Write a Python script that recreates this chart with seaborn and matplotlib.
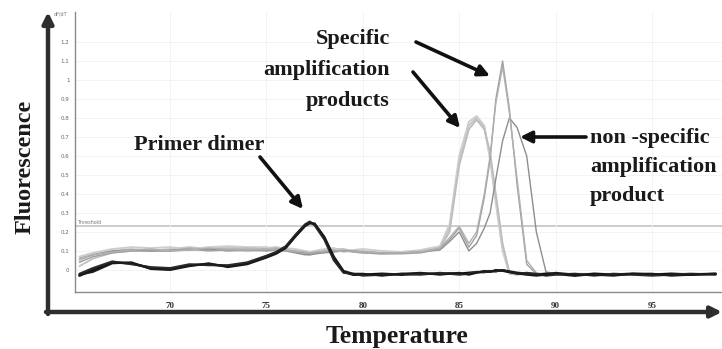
import matplotlib
matplotlib.use("Agg")
import matplotlib.pyplot as plt
import seaborn as sns
import pandas as pd

# ---------------- data ----------------
temperature = [65.3, 66, 67, 68, 69, 70, 71, 72, 73, 74,
               75, 75.5, 76, 76.5, 77, 77.25, 77.5, 78, 78.5, 79,
               79.5, 80, 81, 82, 83, 84, 84.5, 85, 85.5, 85.9,
               86.3, 86.6, 86.9, 87.25, 87.6, 88, 88.5, 89, 89.5, 90,
               91, 92, 93, 94, 95, 96, 97, 98.3]

# primer-dimer (black) curves
black_1 = [-0.03, 0.00, 0.04, 0.035, 0.01, 0.005, 0.025, 0.03, 0.02, 0.035,
           0.07, 0.09, 0.12, 0.18, 0.235, 0.25, 0.24, 0.17, 0.06, -0.01,
           -0.025, -0.025, -0.02, -0.025, -0.02, -0.02, -0.018, -0.02, -0.015, -0.012,
           -0.01, -0.008, -0.005, -0.002, -0.008, -0.015, -0.02, -0.025, -0.02, -0.02,
           -0.03, -0.02, -0.025, -0.02, -0.025, -0.02, -0.025, -0.02]
black_2 = [-0.02, 0.01, 0.045, 0.03, 0.015, 0.01, 0.03, 0.025, 0.025, 0.04,
           0.075, 0.095, 0.125, 0.185, 0.24, 0.255, 0.235, 0.16, 0.05, -0.015,
           -0.02, -0.03, -0.025, -0.02, -0.025, -0.015, -0.02, -0.025, -0.02, -0.01,
           -0.012, -0.005, -0.008, 0.0, -0.01, -0.02, -0.015, -0.02, -0.03, -0.025,
           -0.02, -0.03, -0.02, -0.025, -0.03, -0.025, -0.02, -0.025]
black_3 = [-0.025, -0.01, 0.035, 0.04, 0.005, 0.0, 0.02, 0.035, 0.015, 0.03,
           0.065, 0.085, 0.115, 0.175, 0.23, 0.245, 0.245, 0.175, 0.07, -0.005,
           -0.02, -0.02, -0.03, -0.02, -0.015, -0.025, -0.02, -0.015, -0.025, -0.015,
           -0.005, -0.01, 0.0, -0.005, -0.012, -0.018, -0.025, -0.03, -0.025, -0.015,
           -0.025, -0.025, -0.03, -0.02, -0.02, -0.03, -0.025, -0.02]

# specific product peaking near 86 C (light grey)
spec86_1 = [0.05, 0.08, 0.10, 0.11, 0.10, 0.11, 0.12, 0.11, 0.12, 0.11,
            0.115, 0.12, 0.11, 0.10, 0.09, 0.085, 0.09, 0.10, 0.11, 0.11,
            0.10, 0.10, 0.09, 0.09, 0.10, 0.12, 0.22, 0.58, 0.76, 0.80,
            0.75, 0.60, 0.38, 0.12, -0.02, -0.025, -0.02, -0.02, -0.025, -0.02,
            -0.02, -0.025, -0.02, -0.02, -0.025, -0.02, -0.02, -0.02]
spec86_2 = [0.07, 0.09, 0.11, 0.12, 0.115, 0.12, 0.11, 0.12, 0.125, 0.12,
            0.12, 0.11, 0.115, 0.11, 0.10, 0.095, 0.10, 0.11, 0.115, 0.10,
            0.105, 0.11, 0.10, 0.095, 0.105, 0.125, 0.24, 0.60, 0.78, 0.81,
            0.76, 0.58, 0.35, 0.10, -0.015, -0.02, -0.025, -0.02, -0.02, -0.025,
            -0.02, -0.02, -0.025, -0.02, -0.02, -0.025, -0.02, -0.02]
spec86_3 = [0.02, 0.06, 0.09, 0.10, 0.105, 0.10, 0.115, 0.105, 0.11, 0.115,
            0.11, 0.115, 0.105, 0.095, 0.085, 0.08, 0.085, 0.095, 0.10, 0.105,
            0.095, 0.09, 0.085, 0.09, 0.095, 0.115, 0.20, 0.55, 0.74, 0.79,
            0.74, 0.62, 0.40, 0.14, -0.01, -0.02, -0.02, -0.025, -0.02, -0.02,
            -0.025, -0.02, -0.02, -0.025, -0.02, -0.02, -0.025, -0.02]

# specific product peaking near 87.3 C (mid grey, tallest)
spec87_1 = [0.04, 0.07, 0.09, 0.10, 0.10, 0.105, 0.11, 0.10, 0.105, 0.10,
            0.105, 0.11, 0.10, 0.095, 0.09, 0.085, 0.09, 0.095, 0.10, 0.10,
            0.095, 0.09, 0.085, 0.085, 0.09, 0.11, 0.16, 0.22, 0.12, 0.18,
            0.38, 0.58, 0.90, 1.10, 0.85, 0.45, 0.03, -0.02, -0.02, -0.025,
            -0.02, -0.02, -0.025, -0.02, -0.02, -0.02, -0.025, -0.02]
spec87_2 = [0.06, 0.08, 0.095, 0.105, 0.11, 0.10, 0.105, 0.115, 0.11, 0.105,
            0.11, 0.105, 0.105, 0.10, 0.095, 0.09, 0.095, 0.10, 0.105, 0.095,
            0.10, 0.095, 0.09, 0.09, 0.095, 0.115, 0.17, 0.23, 0.14, 0.20,
            0.40, 0.60, 0.88, 1.07, 0.83, 0.48, 0.05, -0.015, -0.025, -0.02,
            -0.025, -0.02, -0.02, -0.02, -0.025, -0.02, -0.02, -0.025]

# non-specific product peaking near 87.7 C (grey)
nonspec = [0.06, 0.08, 0.10, 0.105, 0.10, 0.10, 0.105, 0.11, 0.10, 0.105,
           0.10, 0.105, 0.10, 0.09, 0.08, 0.08, 0.085, 0.09, 0.095, 0.10,
           0.10, 0.095, 0.09, 0.09, 0.095, 0.105, 0.15, 0.20, 0.10, 0.14,
           0.22, 0.30, 0.48, 0.68, 0.80, 0.75, 0.60, 0.20, -0.01, -0.02,
           -0.02, -0.025, -0.02, -0.02, -0.02, -0.025, -0.02, -0.02]

threshold = 0.23
x_ticks = [70, 75, 80, 85, 90, 95]
y_ticks = [0, 0.1, 0.2, 0.3, 0.4, 0.5, 0.6, 0.7, 0.8, 0.9, 1.0, 1.1, 1.2]
y_tick_labels = ["0", "0.1", "0.2", "0.3", "0.4", "0.5", "0.6", "0.7", "0.8",
                 "0.9", "1", "1.1", "1.2"]

curves = {
    "spec86_1": (spec86_1, "#c4c4c4", 1.4),
    "spec86_2": (spec86_2, "#cdcdcd", 1.4),
    "spec86_3": (spec86_3, "#bcbcbc", 1.2),
    "nonspec": (nonspec, "#8e8e8e", 1.0),
    "spec87_1": (spec87_1, "#a0a0a0", 1.0),
    "spec87_2": (spec87_2, "#b0b0b0", 1.0),
    "black_1": (black_1, "#111111", 1.8),
    "black_2": (black_2, "#2a2a2a", 1.5),
    "black_3": (black_3, "#1b1b1b", 1.5),
}

rows = []
for name, (vals, _, _) in curves.items():
    for t, v in zip(temperature, vals):
        rows.append({"curve": name, "Temperature": t, "dF": v})
df = pd.DataFrame(rows)

# ---------------- figure ----------------
sns.set_style("white")
plt.rcParams["font.family"] = ["Liberation Serif", "DejaVu Serif"]

W, H = 722, 349
fig = plt.figure(figsize=(W / 100, H / 100), dpi=100)

ax = fig.add_axes([75 / W, 57 / H, (W - 75) / W, (292 - 12) / H])
ax.set_xlim(65.07, 98.63)
ax.set_ylim(-0.116, 1.358)

for name, (vals, col, lw) in curves.items():
    sns.lineplot(data=df[df["curve"] == name], x="Temperature", y="dF",
                 color=col, lw=lw, ax=ax, legend=False, estimator=None)

ax.axhline(threshold, color="#c8c8c8", lw=1.3, zorder=0)
ax.text(65.2, threshold + 0.008, "Threshold", fontsize=3.5, color="#777777",
        va="bottom", ha="left", family="DejaVu Sans")

ax.set_xticks(x_ticks)
ax.set_xticklabels([str(v) for v in x_ticks], fontsize=6.5, color="#333333",
                   fontweight="bold")
ax.set_yticks(y_ticks)
ax.set_yticklabels(y_tick_labels, fontsize=4, color="#666666",
                   family="DejaVu Sans")
ax.tick_params(axis="x", length=2, width=0.6, color="#888888", pad=5)
ax.tick_params(axis="y", length=2, width=0.6, color="#888888", pad=2)
ax.grid(True, color="#f1f1f1", lw=0.6)
ax.set_axisbelow(True)
for s in ["top", "right"]:
    ax.spines[s].set_visible(False)
for s in ["left", "bottom"]:
    ax.spines[s].set_color("#8a8a8a")
    ax.spines[s].set_linewidth(1.0)
ax.set_xlabel("")
ax.set_ylabel("")
ax.text(-0.012, 1.345, "dF/dT", transform=ax.get_yaxis_transform(),
        fontsize=3.5, color="#777777", ha="right", va="center",
        family="DejaVu Sans")

# overlay in pixel coordinates for the hand-drawn style annotations
ov = fig.add_axes([0, 0, 1, 1], facecolor="none")
ov.set_xlim(0, W)
ov.set_ylim(H, 0)
ov.axis("off")

axis_arrow = dict(arrowstyle="-|>", lw=3.2, color="#2e2e2e",
                  mutation_scale=16, shrinkA=0, shrinkB=0)
ov.annotate("", xy=(48, 12), xytext=(48, 314), arrowprops=axis_arrow)
ov.annotate("", xy=(722, 312), xytext=(46, 312), arrowprops=axis_arrow)

ov.text(25, 167, "Fluorescence", rotation=90, fontsize=17.5, fontweight="bold",
        ha="center", va="center", color="#1a1a1a")
ov.text(397, 336, "Temperature", fontsize=18.5, fontweight="bold",
        ha="center", va="center", color="#1a1a1a")

ann_arrow = dict(arrowstyle="-|>", lw=2.6, color="#111111",
                 mutation_scale=17, shrinkA=0, shrinkB=0)
ov.text(134, 145, "Primer dimer", fontsize=16, fontweight="bold",
        ha="left", va="center", color="#1a1a1a")
ov.annotate("", xy=(303, 209), xytext=(260, 157), arrowprops=ann_arrow)

ov.text(390, 70, "Specific\namplification\nproducts", fontsize=16,
        fontweight="bold", ha="right", va="center", multialignment="right",
        linespacing=1.72, color="#1a1a1a")
ov.annotate("", xy=(490, 76), xytext=(416, 42), arrowprops=ann_arrow)
ov.annotate("", xy=(460, 128), xytext=(413, 72), arrowprops=ann_arrow)

ov.text(590, 167, "non -specific\namplification\nproduct", fontsize=16,
        fontweight="bold", ha="left", va="center", multialignment="left",
        linespacing=1.6, color="#1a1a1a")
ov.annotate("", xy=(520, 137), xytext=(586, 137), arrowprops=ann_arrow)

fig.savefig("out.png", dpi=100, facecolor="white")
